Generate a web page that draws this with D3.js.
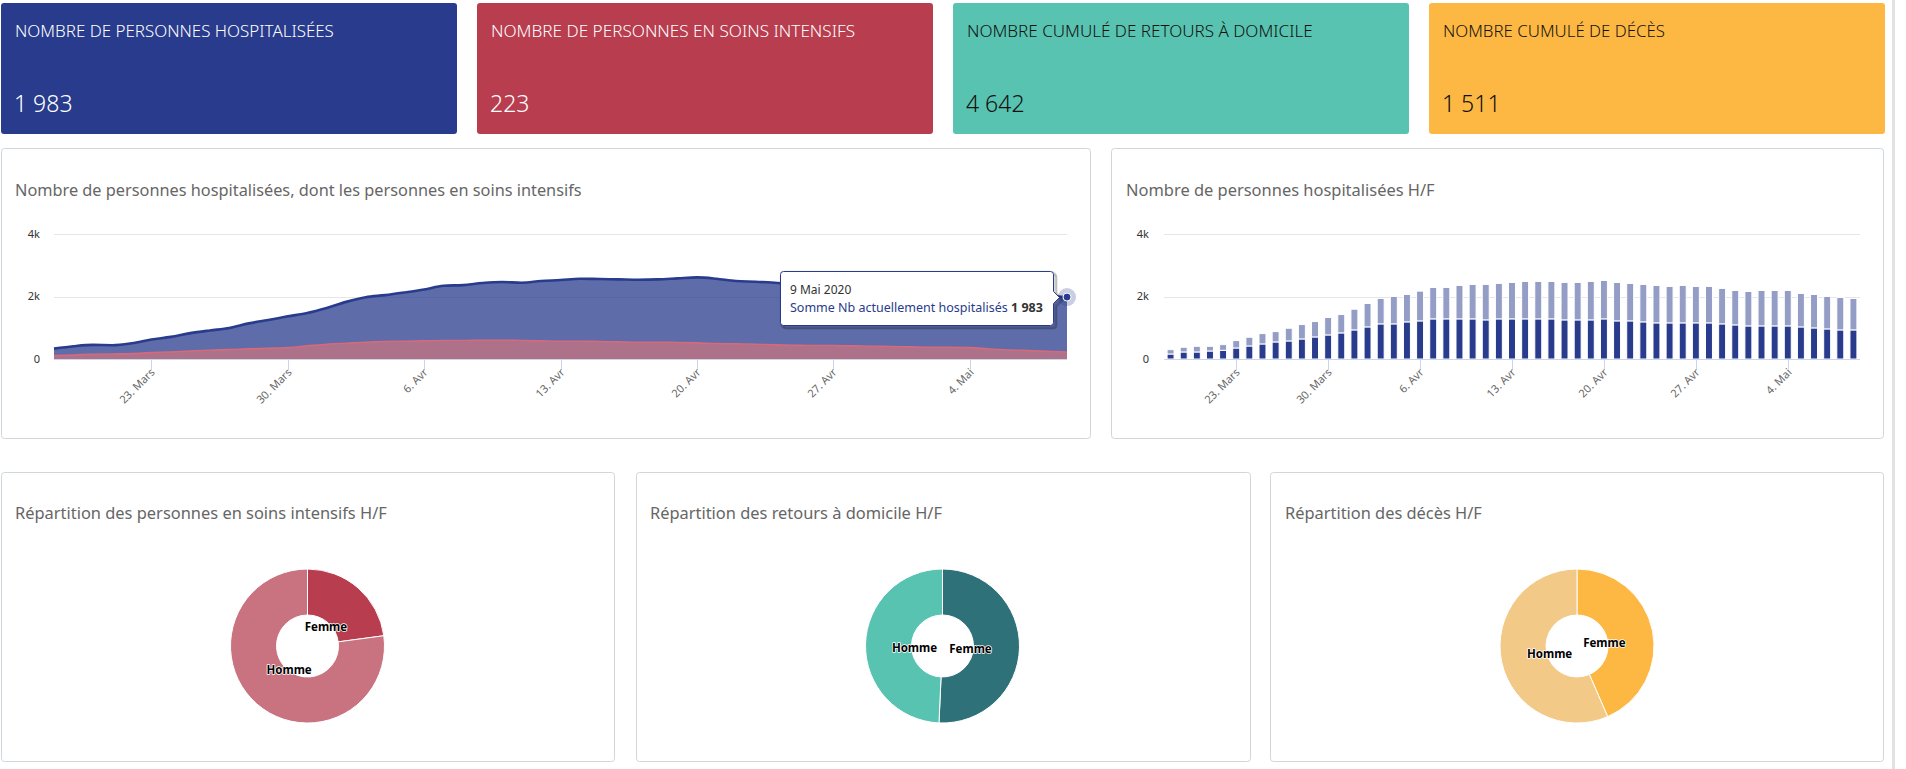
<!DOCTYPE html>
<html><head><meta charset="utf-8">
<script src="https://cdn.jsdelivr.net/npm/d3@7"></script>
<style>
html,body{margin:0;padding:0;background:#fff;overflow:hidden}
svg{display:block}
</style></head><body>
<svg id="c" width="1906" height="769"></svg>
<script>
// ---------------- DATA ----------------
const dates = ["2020-03-18","2020-03-19","2020-03-20","2020-03-21","2020-03-22","2020-03-23","2020-03-24","2020-03-25","2020-03-26","2020-03-27","2020-03-28","2020-03-29","2020-03-30","2020-03-31",
"2020-04-01","2020-04-02","2020-04-03","2020-04-04","2020-04-05","2020-04-06","2020-04-07","2020-04-08","2020-04-09","2020-04-10","2020-04-11","2020-04-12","2020-04-13","2020-04-14","2020-04-15","2020-04-16","2020-04-17","2020-04-18","2020-04-19","2020-04-20","2020-04-21","2020-04-22","2020-04-23","2020-04-24","2020-04-25","2020-04-26","2020-04-27","2020-04-28","2020-04-29","2020-04-30",
"2020-05-01","2020-05-02","2020-05-03","2020-05-04","2020-05-05","2020-05-06","2020-05-07","2020-05-08","2020-05-09"];
const hospitalises = [333,408,451,441,505,623,709,828,914,989,1140,1247,1365,1473,1634,1828,1978,2043,2129,2225,2344,2365,2430,2462,2440,2494,2526,2569,2558,2548,2537,2548,2580,2612,2569,2494,2473,2440,2400,2420,2395,2390,2330,2260,2225,2250,2245,2240,2160,2120,2060,2020,1983];
const soinsIntensifs = [108,129,150,161,172,204,226,258,280,301,323,344,366,419,473,505,538,559,570,580,591,591,602,602,591,580,570,570,559,548,538,538,527,516,494,484,473,452,441,430,430,419,408,398,387,376,376,365,322,290,269,247,223];
const hommesHosp = [160,225,225,257,278,353,417,482,546,578,642,706,770,835,931,1027,1124,1124,1188,1220,1284,1284,1284,1284,1252,1284,1284,1284,1284,1284,1252,1252,1252,1284,1220,1220,1188,1156,1156,1156,1156,1156,1124,1092,1059,1059,1059,1059,1027,995,963,931,931];
const femmesHosp = [140,150,181,149,182,236,279,331,331,406,460,492,557,588,663,749,813,877,877,952,1006,1006,1070,1102,1134,1134,1166,1198,1198,1198,1198,1198,1230,1230,1230,1198,1198,1198,1166,1198,1166,1166,1134,1101,1102,1134,1134,1134,1070,1070,1038,1038,1006];
const tickDates = ["2020-03-23","2020-03-30","2020-04-06","2020-04-13","2020-04-20","2020-04-27","2020-05-04"];
const tickLabels = ["23. Mars","30. Mars","6. Avr","13. Avr","20. Avr","27. Avr","4. Mai"];
const yTicks = [0,2000,4000];
const yTickLabels = ["0","2k","4k"];
const cardTitles = ["NOMBRE DE PERSONNES HOSPITALISÉES","NOMBRE DE PERSONNES EN SOINS INTENSIFS","NOMBRE CUMULÉ DE RETOURS À DOMICILE","NOMBRE CUMULÉ DE DÉCÈS"];
const cardValues = [1983,223,4642,1511];
const chartTitles = ["Nombre de personnes hospitalisées, dont les personnes en soins intensifs","Nombre de personnes hospitalisées H/F"];
const pieTitles = ["Répartition des personnes en soins intensifs H/F","Répartition des retours à domicile H/F","Répartition des décès H/F"];
const pieCategories = ["Femme","Homme"];
const pieSoinsIntensifs = [51,172];
const pieRetours = [2355,2287];
const pieDeces = [657,854];
const tooltipDate = "9 Mai 2020";
const tooltipSeries = "Somme Nb actuellement hospitalisés";

// ---------------- STYLE ----------------
const FONT = "'Segoe UI','Noto Sans','Open Sans',sans-serif";
const parse = d3.timeParse("%Y-%m-%d");
const fmt = d3.formatLocale({decimal:",",thousands:"\u00a0",grouping:[3],currency:["","€"]}).format(",d");
const svg = d3.select("#c").style("font-family", FONT);
svg.append("rect").attr("width",1906).attr("height",769).attr("fill","#fff");
svg.append("rect").attr("x",1892).attr("y",0).attr("width",3).attr("height",769).attr("fill","#e2e2e2");

function fit(sel, target){
  const w = sel.node().getComputedTextLength();
  const fs = parseFloat(sel.attr("font-size"));
  sel.attr("font-size", (fs*target/w).toFixed(2));
}

// ---------------- CARDS ----------------
const cardX = [1,477,953,1429], cardW = 456, cardY = 3, cardH = 131;
const cardColors = ["#283b8c","#b83d4f","#58c3b0","#fdb843"];
const cardInk = ["#ffffff","#ffffff","#111111","#111111"];
const cardLabelW = [319,364,346,222];
cardTitles.forEach((t,i)=>{
  const g = svg.append("g");
  g.append("rect").attr("x",cardX[i]).attr("y",cardY).attr("width",cardW).attr("height",cardH).attr("rx",3).attr("fill",cardColors[i]);
  const l = g.append("text").attr("x",cardX[i]+14).attr("y",37).attr("font-size",16).attr("font-weight",300).attr("fill",cardInk[i]).text(t);
  fit(l, cardLabelW[i]);
  g.append("text").attr("x",cardX[i]+13).attr("y",112).attr("font-size",23).attr("font-weight",300).attr("fill",cardInk[i]).text(fmt(cardValues[i]));
});

// ---------------- PANELS ----------------
const panels = [
  {x:1.5,y:148.5,w:1089,h:290},{x:1111.5,y:148.5,w:772,h:290},
  {x:1.5,y:472.5,w:613,h:289},{x:636.5,y:472.5,w:614,h:289},{x:1270.5,y:472.5,w:613,h:289}];
panels.forEach(p=>svg.append("rect").attr("x",p.x).attr("y",p.y).attr("width",p.w).attr("height",p.h).attr("rx",3).attr("fill","#fff").attr("stroke","#cfd6dc"));
const titleSpecs = [
  {t:chartTitles[0],x:15,y:196,w:567},{t:chartTitles[1],x:1126,y:196,w:309},
  {t:pieTitles[0],x:15,y:519,w:372},{t:pieTitles[1],x:650,y:519,w:292},{t:pieTitles[2],x:1285,y:519,w:197}];
titleSpecs.forEach(s=>{
  const el = svg.append("text").attr("x",s.x).attr("y",s.y).attr("font-size",16).attr("fill","#666").text(s.t);
  fit(el, s.w);
});

const yScale = d3.scaleLinear().domain([0,4000]).range([359,234]);

function yAxis(x0, x1, labelX){
  const g = svg.append("g");
  yTicks.forEach((v,i)=>{
    if(v>0) g.append("line").attr("x1",x0).attr("x2",x1).attr("y1",Math.round(yScale(v))+0.5).attr("y2",Math.round(yScale(v))+0.5).attr("stroke","#e6e6e6");
    g.append("text").attr("x",labelX).attr("y",yScale(v)).attr("dy","0.35em").attr("text-anchor","end").attr("font-size",11).attr("fill","#333").text(yTickLabels[i]);
  });
}
function xAxis(x0, x1, posFn){
  const g = svg.append("g");
  g.append("line").attr("x1",x0).attr("x2",x1).attr("y1",359.5).attr("y2",359.5).attr("stroke","#ccd6eb");
  tickDates.forEach((d,i)=>{
    const x = Math.round(posFn(d))+0.5;
    g.append("line").attr("x1",x).attr("x2",x).attr("y1",359.5).attr("y2",369.5).attr("stroke","#ccd6eb");
    g.append("text").attr("transform",`translate(${x+4},${373}) rotate(-45)`).attr("text-anchor","end").attr("font-size",11).attr("fill","#666").text(tickLabels[i]);
  });
}

// ---------------- AREA CHART ----------------
const xA = d3.scaleTime().domain([parse(dates[0]), parse(dates[dates.length-1])]).range([54,1067]);
yAxis(54, 1067, 40);
const areaGen = vals => d3.area().curve(d3.curveMonotoneX).x((d,i)=>xA(parse(dates[i]))).y0(yScale(0)).y1(d=>yScale(d))(vals);
const lineGen = vals => d3.line().curve(d3.curveMonotoneX).x((d,i)=>xA(parse(dates[i]))).y(d=>yScale(d))(vals);
svg.append("path").attr("d",areaGen(hospitalises)).attr("fill","#283b8c").attr("fill-opacity",0.75);
svg.append("path").attr("d",lineGen(hospitalises)).attr("fill","none").attr("stroke","#283b8c").attr("stroke-width",2.6);
svg.append("path").attr("d",areaGen(soinsIntensifs)).attr("fill","#c8737f").attr("fill-opacity",0.75);
svg.append("path").attr("d",lineGen(soinsIntensifs)).attr("fill","none").attr("stroke","#d66a7c").attr("stroke-width",1.6);
xAxis(54, 1067, d=>xA(parse(d)));

// marker + tooltip
const last = hospitalises.length-1;
const px = xA(parse(dates[last])), py = yScale(hospitalises[last]);
svg.append("circle").attr("cx",px).attr("cy",py).attr("r",9).attr("fill","#283b8c").attr("fill-opacity",0.25);
svg.append("circle").attr("cx",px).attr("cy",py).attr("r",4).attr("fill","#283b8c").attr("stroke","#fff").attr("stroke-width",1);
{
  const R = Math.round(px-14)+0.5, L = R-273, T = Math.round(py-26)+0.5, B = T+54, ay = Math.round(py)+0.5, r=3;
  const d = `M${L+r},${T} H${R-r} Q${R},${T} ${R},${T+r} V${ay-6} L${R+6},${ay} L${R},${ay+6} V${B-r} Q${R},${B} ${R-r},${B} H${L+r} Q${L},${B} ${L},${B-r} V${T+r} Q${L},${T} ${L+r},${T} Z`;
  [3,2,1].forEach(o=>svg.append("path").attr("d",d).attr("transform",`translate(${o},${o})`).attr("fill","none").attr("stroke","#000").attr("stroke-opacity",0.05*o).attr("stroke-width",5-o));
  svg.append("path").attr("d",d).attr("fill","#fff").attr("stroke","#283b8c").attr("stroke-width",1);
  svg.append("text").attr("x",L+9.5).attr("y",T+22).attr("font-size",12).attr("fill","#333").text(tooltipDate);
  const t2 = svg.append("text").attr("x",L+9.5).attr("y",T+40.5).attr("font-size",12).attr("fill","#333");
  t2.append("tspan").attr("fill","#283b8c").text(tooltipSeries+" ");
  t2.append("tspan").attr("font-weight","bold").text(fmt(hospitalises[last]));
  fit(t2, 253);
}

// ---------------- BAR CHART ----------------
const xB = d3.scaleBand().domain(dates).range([1164,1860]).paddingInner(0.47).paddingOuter(0.235);
yAxis(1164, 1860, 1149);
const stacked = d3.stack().keys(["h","f"])(dates.map((d,i)=>({date:d,h:hommesHosp[i],f:femmesHosp[i]})));
const barColors = {h:"#283b8c", f:"#939dc5"};
stacked.forEach(layer=>{
  svg.append("g").selectAll("rect").data(layer).join("rect")
    .attr("x",d=>xB(d.data.date)).attr("width",xB.bandwidth())
    .attr("y",d=>yScale(d[1])).attr("height",d=>yScale(d[0])-yScale(d[1]))
    .attr("fill",barColors[layer.key]).attr("stroke","#fff").attr("stroke-width",1);
});
xAxis(1164, 1860, d=>xB(d)+xB.bandwidth()/2);

// ---------------- PIES ----------------
const pieSpecs = [
  {vals:pieSoinsIntensifs, cx:307.5, colors:["#b83d4f","#c8737f"]},
  {vals:pieRetours, cx:942.5, colors:["#2e7179","#58c3b0"]},
  {vals:pieDeces, cx:1577, colors:["#fdb843","#f2c987"]}];
const cy = 646;
const arc = d3.arc().innerRadius(31).outerRadius(77);
pieSpecs.forEach(s=>{
  const arcs = d3.pie().sort(null)(s.vals);
  const g = svg.append("g").attr("transform",`translate(${s.cx},${cy})`);
  g.selectAll("path").data(arcs).join("path").attr("d",arc).attr("fill",(d,i)=>s.colors[i]).attr("stroke","#fff").attr("stroke-width",1);
  g.selectAll("text").data(arcs).join("text")
    .attr("x",d=>28*Math.sin((d.startAngle+d.endAngle)/2))
    .attr("y",d=>2.5-28*Math.cos((d.startAngle+d.endAngle)/2))
    .attr("dy","0.35em").attr("text-anchor","middle").attr("font-size",11.5).attr("font-weight","bold")
    .attr("fill","#000").attr("stroke","#fff").attr("stroke-width",1.5).attr("paint-order","stroke").attr("stroke-linejoin","round")
    .text((d,i)=>pieCategories[i]);
});
</script>
</body></html>
